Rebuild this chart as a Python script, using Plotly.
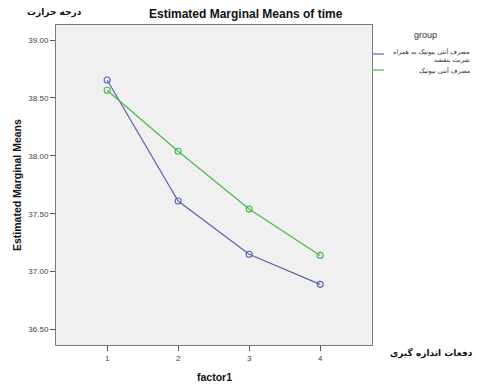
import plotly.graph_objects as go

factor1 = [1, 2, 3, 4]
group_names = ["مصرف آنتی بیوتیک به همراه<br>شربت بنفشه", "مصرف آنتی بیوتیک"]
means_syrup = [38.655, 37.61, 37.15, 36.89]
means_anti = [38.566, 38.04, 37.54, 37.14]
y_ticks = [36.5, 37.0, 37.5, 38.0, 38.5, 39.0]
y_tick_text = ["36.50", "37.00", "37.50", "38.00", "38.50", "39.00"]
colors = ["#5a63b2", "#48b848"]

W, H = 477, 385
L, R, T, B = 56, 105, 25, 40
PW, PH = W - L - R, H - T - B


def px(x):
    return (x - L) / PW


def py(y):
    return (H - B - y) / PH


fig = go.Figure()
for vals, c, name in zip([means_syrup, means_anti], colors, group_names):
    fig.add_trace(go.Scatter(
        x=factor1, y=vals, mode="lines+markers", name=name,
        line=dict(color=c, width=1.2),
        marker=dict(symbol="circle-open", size=6, color=c, line=dict(width=1.1)),
        showlegend=False, hoverinfo="skip"))

fig.update_layout(
    width=W, height=H,
    margin=dict(l=L, r=R, t=T, b=B),
    paper_bgcolor="white", plot_bgcolor="#f0f0f0",
    font=dict(family="Liberation Sans, Arial", size=8, color="#444"),
)
fig.update_xaxes(range=[0.28, 4.73], tickvals=factor1, ticks="outside", ticklen=5,
                 tickcolor="#555", showgrid=False, zeroline=False, showline=True,
                 linecolor="#7a7a7a", linewidth=1, mirror=True)
fig.update_yaxes(range=[36.366, 39.13], tickvals=y_ticks, ticktext=y_tick_text, ticks="outside",
                 ticklen=5, tickcolor="#555", showgrid=False, zeroline=False, showline=True,
                 linecolor="#7a7a7a", linewidth=1, mirror=True)


def ann(text, x, y, xanchor="center", size=9, family="Liberation Sans, Arial", color="#111",
        align="center", angle=0):
    fig.add_annotation(text=text, xref="paper", yref="paper", x=px(x), y=py(y),
                       xanchor=xanchor, yanchor="middle", showarrow=False, align=align,
                       textangle=angle, font=dict(family=family, size=size, color=color))


ann("<b>Estimated Marginal Means of time</b>", 246, 14, size=12)
ann("<b>درجه حرارت</b>", 54, 13, family="DejaVu Sans", size=9)
ann("<b>factor1</b>", 214, 377, size=10.5)
ann("<b>Estimated Marginal Means</b>", 17, 185, size=10.5, angle=-90)
ann("<b>دفعات اندازه گیری</b>", 475, 353, xanchor="right", family="DejaVu Sans", size=9)

# legend
ann("group", 425, 35, size=9, color="#333")
leg_line_y = [54, 70]
for c, yy in zip(colors, leg_line_y):
    fig.add_shape(type="line", xref="paper", yref="paper", x0=px(372), x1=px(384),
                  y0=py(yy), y1=py(yy), line=dict(color=c, width=1.2))
ann(group_names[0], 472, 55, xanchor="right", family="DejaVu Sans", size=6.5,
    color="#333", align="right")
ann(group_names[1], 472, 70, xanchor="right", family="DejaVu Sans", size=6.5,
    color="#333", align="right")

fig.write_html("out.html", config={"displayModeBar": False},
               post_script="document.body.style.margin='0';")
